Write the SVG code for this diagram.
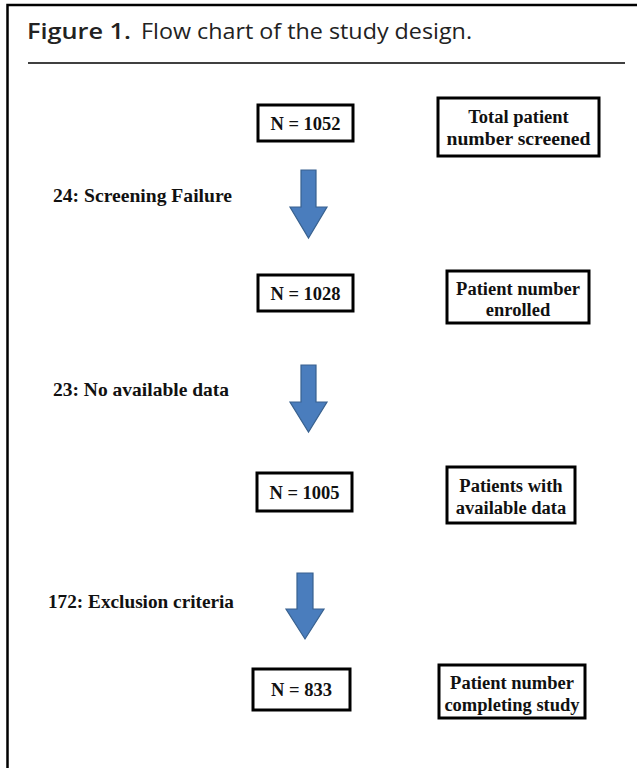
<svg xmlns="http://www.w3.org/2000/svg" width="637" height="768" viewBox="0 0 637 768">
<style>
.frame{fill:none;stroke:#000;stroke-width:2.5}
.box{fill:#fff;stroke:#000;stroke-width:3}
.bt{font-family:"Liberation Serif","Times New Roman",serif;font-weight:bold;font-size:18.5px;fill:#111;text-anchor:middle}
.lt{font-family:"Liberation Serif","Times New Roman",serif;font-weight:bold;font-size:19px;fill:#111}
.arrow{fill:#4a7dbd;stroke:#38618f;stroke-width:1.2}
.title{font-family:"Open Sans","Liberation Sans",sans-serif;font-size:22px;fill:#222}
</style>
<rect width="637" height="768" fill="#fff"/>
<rect class="frame" x="7.5" y="5" width="660" height="800"/>
<g id="title">
<text class="title" x="27" y="39" font-weight="600" textLength="104" lengthAdjust="spacingAndGlyphs">Figure 1.</text>
<text class="title" x="141" y="39" textLength="331" lengthAdjust="spacingAndGlyphs">Flow chart of the study design.</text>
<line x1="28" y1="63" x2="625" y2="63" stroke="#000" stroke-width="1.5"/>
</g>
<g id="n1052"><rect class="box" x="258" y="105" width="95" height="36"/><text class="bt" x="305.5" y="129.5">N = 1052</text></g>
<g id="total"><rect class="box" x="438" y="98" width="161" height="58"/><text class="bt" x="518.5" y="123">Total patient</text><text class="bt" x="518.5" y="145" textLength="144" lengthAdjust="spacingAndGlyphs">number screened</text></g>
<g id="n1028"><rect class="box" x="258" y="275" width="95" height="36"/><text class="bt" x="305.5" y="299.5">N = 1028</text></g>
<g id="enrolled"><rect class="box" x="447" y="271" width="142" height="52"/><text class="bt" x="518" y="295">Patient number</text><text class="bt" x="518" y="316">enrolled</text></g>
<g id="n1005"><rect class="box" x="257" y="473" width="95" height="38"/><text class="bt" x="304.5" y="498.5">N = 1005</text></g>
<g id="available"><rect class="box" x="447" y="467" width="128" height="56"/><text class="bt" x="511" y="492">Patients with</text><text class="bt" x="511" y="514">available data</text></g>
<g id="n833"><rect class="box" x="253" y="669" width="97" height="41"/><text class="bt" x="301.5" y="696">N = 833</text></g>
<g id="completing"><rect class="box" x="439" y="665" width="146" height="53"/><text class="bt" x="512" y="689">Patient number</text><text class="bt" x="512" y="711">completing study</text></g>
<g id="labels">
<text class="lt" x="53" y="202" textLength="179" lengthAdjust="spacingAndGlyphs">24: Screening Failure</text>
<text class="lt" x="53" y="396" textLength="176" lengthAdjust="spacingAndGlyphs">23: No available data</text>
<text class="lt" x="48" y="608" textLength="186" lengthAdjust="spacingAndGlyphs">172: Exclusion criteria</text>
</g>
<g id="connectors">
<path class="arrow" d="M301,170 H316 V207 H327 L308.5,238 L290,207 H301 Z"/>
<path class="arrow" d="M301,365 H316 V402 H327 L308.5,432 L290,402 H301 Z"/>
<path class="arrow" d="M297,573 H313 V609 H324 L305,639 L286,609 H297 Z"/>
</g>
</svg>
